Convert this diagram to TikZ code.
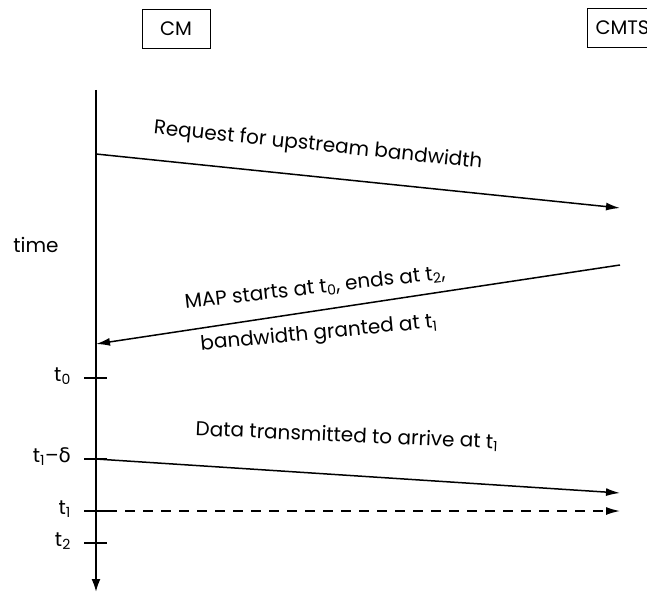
\documentclass[tikz,border=0pt]{standalone}
\usepackage{fontspec}
\setmainfont{Poppins}
\newfontfamily\grk{DejaVu Sans}
\usetikzlibrary{arrows.meta}
\tikzset{
  txt/.style={font=\fontsize{20}{23}\selectfont, inner sep=0pt},
  ent/.style={draw, line width=1pt, minimum width=68pt, minimum height=39pt, font=\fontsize{19.5}{22}\selectfont},
  msg/.style={line width=1.5pt, -{Latex[length=14pt,width=8pt]}},
  tick/.style={line width=2pt},
  tl/.style={txt, anchor=east}
}
\begin{document}
\begin{tikzpicture}[x=1pt,y=-1pt]
  \useasboundingbox (0,0) rectangle (647,593);
  \clip (0,0) rectangle (647,593);
  % entity boxes
  \node[ent] (cm) at (176,29) {CM};
  \node[ent, minimum width=70pt, anchor=west, inner xsep=2pt] (cmts) at (587,28) {CMTS};
  % time axis of the CM
  \coordinate (top) at (96,90);
  \coordinate (bot) at (96,592);
  \draw[line width=2pt, -{Latex[length=13pt,width=9pt]}] (top) -- (bot);
  \node[txt] (time) at (36,245) {time};
  % ticks on the axis
  \coordinate (a0) at (84,378); \coordinate (b0) at (107,378);
  \coordinate (a1) at (84,459); \coordinate (b1) at (107,459);
  \coordinate (a2) at (84,511); \coordinate (b2) at (107,511);
  \coordinate (a3) at (84,543); \coordinate (b3) at (107,543);
  \draw[tick] (a0) -- (b0);
  \draw[tick] (a1) -- (b1);
  \draw[tick] (a2) -- (b2);
  \draw[tick] (a3) -- (b3);
  \node[tl] (lt0) at (71,376) {t\textsubscript{0}};
  \node[tl] (lt1d) at (71,457) {t\textsubscript{1}–{\grk δ}};
  \node[tl] (lt1) at (71,509) {t\textsubscript{1}};
  \node[tl] (lt2) at (71,541) {t\textsubscript{2}};
  % request
  \coordinate (r0) at (96,154);
  \coordinate (r1) at (620,208);
  \draw[msg] (r0) -- (r1);
  \node[txt, rotate=-6] (req) at (318,146) {Request for upstream bandwidth};
  % MAP grant
  \coordinate (m0) at (620,265);
  \coordinate (m1) at (96,344);
  \draw[msg] (m0) -- (m1);
  \node[txt, rotate=6.5] (map1) at (315,288) {MAP starts at t\textsubscript{0}, ends at t\textsubscript{2},};
  \node[txt, rotate=5.5] (map2) at (319,334) {bandwidth granted at t\textsubscript{1}};
  % data transmission
  \coordinate (d0) at (96,459);
  \coordinate (d1) at (620,493);
  \draw[msg] (d0) -- (d1);
  \node[txt, rotate=-2.5] (data) at (347,436) {Data transmitted to arrive at t\textsubscript{1}};
  % arrival
  \coordinate (e1) at (620,511);
  \draw[msg, dashed, dash pattern=on 10pt off 8pt] (b2) -- (e1);
\end{tikzpicture}
\end{document}
